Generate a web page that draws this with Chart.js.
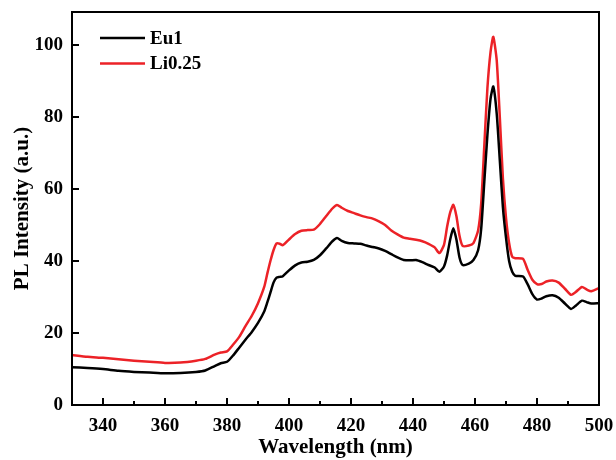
<!DOCTYPE html>
<html>
<head>
<meta charset="utf-8">
<script src="https://cdn.jsdelivr.net/npm/chart.js@4.4.1/dist/chart.umd.min.js"></script>
<style>
  html, body { margin: 0; padding: 0; background: #fff; }
  #wrap { width: 616px; height: 460px; }
</style>
</head>
<body>
<div id="wrap"><canvas id="grafico-pl"></canvas></div>
<script>
const wavelength = [330, 335, 340, 345, 350, 355, 360, 365, 370, 373, 376, 378, 380, 382, 384, 386, 388, 390, 392, 393, 394, 395, 396, 397, 398, 400, 402, 404, 406, 408, 410, 412, 414, 415.5, 417, 419, 421, 423, 425, 427, 429, 431, 433, 435, 437, 439, 441, 443, 445, 447, 448.5, 450, 451, 452, 453, 454, 455, 456, 458, 459.5, 461, 462, 463, 464, 465, 465.9, 467, 468, 469, 470, 471, 472, 473, 475.5, 477, 478.5, 480, 481.5, 483, 485, 487, 489, 491, 492.5, 494.5, 496, 497.5, 500];
const eu1 = [10.5, 10.3, 10.0, 9.5, 9.2, 9.0, 8.8, 8.9, 9.2, 9.6, 10.8, 11.6, 12.0, 13.8, 16.0, 18.2, 20.3, 22.8, 26.0, 28.5, 31.2, 34.0, 35.4, 35.6, 35.8, 37.4, 38.8, 39.6, 39.8, 40.3, 41.6, 43.5, 45.5, 46.4, 45.6, 45.0, 44.9, 44.8, 44.3, 43.9, 43.5, 42.8, 41.9, 41.0, 40.3, 40.2, 40.3, 39.7, 38.9, 38.2, 37.0, 38.5, 41.5, 46.0, 49.1, 46.0, 41.0, 38.9, 39.3, 40.3, 43.0, 49.0, 62.0, 75.0, 85.0, 88.5, 81.0, 68.0, 55.0, 46.5, 40.0, 37.0, 35.9, 35.7, 33.5, 30.8, 29.3, 29.6, 30.2, 30.5, 29.8, 28.2, 26.7, 27.6, 29.0, 28.6, 28.2, 28.3];
const li025 = [13.9, 13.4, 13.1, 12.7, 12.3, 12.0, 11.7, 11.8, 12.3, 12.8, 14.0, 14.6, 14.9, 16.8, 19.0, 22.0, 24.8, 28.3, 32.8, 36.5, 40.0, 43.0, 44.9, 44.8, 44.4, 46.0, 47.5, 48.4, 48.6, 48.7, 50.3, 52.5, 54.6, 55.6, 54.8, 53.9, 53.3, 52.7, 52.2, 51.8, 51.0, 50.0, 48.5, 47.4, 46.5, 46.2, 45.9, 45.5, 44.8, 43.8, 42.2, 44.5, 49.5, 53.5, 55.6, 52.5, 47.0, 44.2, 44.3, 45.0, 48.5, 56.0, 72.0, 88.0, 98.0, 102.3, 95.8, 80.0, 63.0, 52.0, 45.0, 41.2, 40.8, 40.6, 37.5, 34.8, 33.6, 33.6, 34.3, 34.6, 34.0, 32.3, 30.6, 31.4, 32.8, 32.1, 31.6, 32.5];

const xTicks = [340, 360, 380, 400, 420, 440, 460, 480, 500];
const xMinorTicks = [350, 370, 390, 410, 430, 450, 470, 490];
const yTicks = [0, 20, 40, 60, 80, 100];

const fonteTick = { family: "'Liberation Serif', 'Times New Roman', serif", size: 19, weight: "bold" };
const fonteTitulo = { family: "'Liberation Serif', 'Times New Roman', serif", size: 21, weight: "bold" };

// Moldura, ticks para dentro e legenda dentro do gráfico
const molduraPlugin = {
  id: "moldura",
  afterDraw(chart) {
    const { ctx, chartArea: a, scales } = chart;
    ctx.save();
    ctx.strokeStyle = "#000";
    ctx.lineWidth = 2;
    ctx.strokeRect(a.left, a.top, a.right - a.left, a.bottom - a.top);
    ctx.beginPath();
    xTicks.forEach(v => {
      const px = scales.x.getPixelForValue(v);
      ctx.moveTo(px, a.bottom);
      ctx.lineTo(px, a.bottom - 7);
    });
    xMinorTicks.forEach(v => {
      const px = scales.x.getPixelForValue(v);
      ctx.moveTo(px, a.bottom);
      ctx.lineTo(px, a.bottom - 4);
    });
    yTicks.filter(v => v > 0).forEach(v => {
      const py = scales.y.getPixelForValue(v);
      ctx.moveTo(a.left, py);
      ctx.lineTo(a.left + 7, py);
    });
    ctx.stroke();

    ctx.font = "bold 19px 'Liberation Serif', 'Times New Roman', serif";
    ctx.textBaseline = "middle";
    ctx.textAlign = "left";
    chart.data.datasets.forEach((ds, i) => {
      const y = 38 + i * 25.5;
      ctx.strokeStyle = ds.borderColor;
      ctx.lineWidth = 2.5;
      ctx.beginPath();
      ctx.moveTo(100, y);
      ctx.lineTo(145, y);
      ctx.stroke();
      ctx.fillStyle = "#000";
      ctx.fillText(ds.label, 150, y + 1);
    });
    ctx.restore();
  }
};

new Chart(document.getElementById("grafico-pl"), {
  type: "line",
  data: {
    datasets: [
      {
        label: "Eu1",
        data: wavelength.map((w, i) => ({ x: w, y: eu1[i] })),
        borderColor: "#000000",
        borderWidth: 2.5,
        pointRadius: 0,
        tension: 0.2
      },
      {
        label: "Li0.25",
        data: wavelength.map((w, i) => ({ x: w, y: li025[i] })),
        borderColor: "#ec2227",
        borderWidth: 2.5,
        pointRadius: 0,
        tension: 0.2
      }
    ]
  },
  options: {
    responsive: true,
    maintainAspectRatio: false,
    animation: false,
    layout: { padding: { top: 12, right: 17, left: 0, bottom: 0 } },
    scales: {
      x: {
        type: "linear",
        min: 330,
        max: 500,
        afterBuildTicks: s => { s.ticks = xTicks.map(v => ({ value: v })); },
        afterFit: s => { s.height = 55; s.paddingLeft = 0; s.paddingRight = 0; },
        grid: { display: false, drawTicks: false },
        border: { display: false },
        ticks: { color: "#000", font: fonteTick, padding: 10, maxRotation: 0 },
        title: { display: true, text: "Wavelength (nm)", color: "#000", font: fonteTitulo, padding: { top: 0, bottom: 0 } }
      },
      y: {
        type: "linear",
        min: 0,
        max: 109.2,
        afterBuildTicks: s => { s.ticks = yTicks.map(v => ({ value: v })); },
        afterFit: s => { s.width = 72; s.paddingTop = 0; s.paddingBottom = 0; },
        grid: { display: false, drawTicks: false },
        border: { display: false },
        ticks: { color: "#000", font: fonteTick, padding: 9 },
        title: { display: true, text: "PL Intensity (a.u.)", color: "#000", font: fonteTitulo, padding: { top: 10, bottom: 0 } }
      }
    },
    plugins: {
      legend: { display: false },
      tooltip: { enabled: false }
    }
  },
  plugins: [molduraPlugin]
});
</script>
</body>
</html>
